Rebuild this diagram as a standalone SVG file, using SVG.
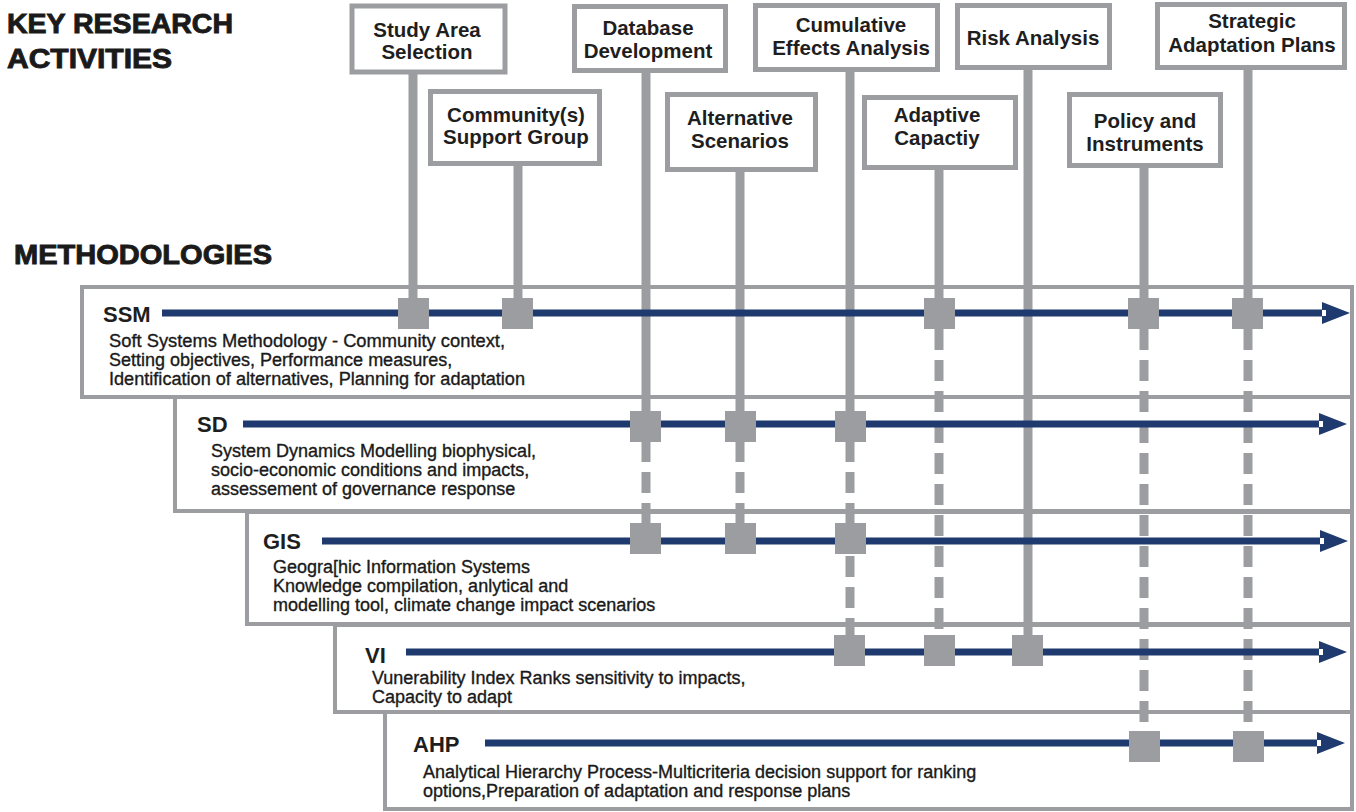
<svg xmlns="http://www.w3.org/2000/svg" width="1356" height="812" viewBox="0 0 1356 812">
<style>
.hdr{font-family:"Liberation Sans",Arial,sans-serif;font-weight:bold;font-size:27px;fill:#1a1a1a;stroke:#1a1a1a;stroke-width:0.9}
.abox{fill:#fff;stroke:#9b9da0;stroke-width:5}
.atxt{font-family:"Liberation Sans",Arial,sans-serif;font-weight:bold;font-size:20.5px;fill:#1e1e1e;text-anchor:middle}
.mbox{fill:#fff;stroke:#9b9da0;stroke-width:4}
.mlbl{font-family:"Liberation Sans",Arial,sans-serif;font-weight:bold;font-size:22px;fill:#1e1e1e}
.mtxt{font-family:"Liberation Sans",Arial,sans-serif;font-size:18px;fill:#1a1a1a;stroke:#1a1a1a;stroke-width:0.35}
.conn{stroke:#9b9da0;stroke-width:9;fill:none}
.dash{stroke:#9b9da0;stroke-width:9;fill:none;stroke-dasharray:21 10}
.sq{fill:#9b9da0}
.flow{stroke:#1f3a6e;stroke-width:7;fill:none}
.head{fill:#1f3a6e}
</style>
<rect width="1356" height="812" fill="#fff"/>

<g id="headers">
<text class="hdr" x="7" y="33" textLength="226" lengthAdjust="spacingAndGlyphs">KEY RESEARCH</text>
<text class="hdr" x="7" y="68" textLength="165" lengthAdjust="spacingAndGlyphs">ACTIVITIES</text>
<text class="hdr" x="14" y="264" textLength="258" lengthAdjust="spacingAndGlyphs">METHODOLOGIES</text>
</g>

<!-- methodology boxes -->
<g id="m-ssm"><rect class="mbox" x="82" y="287" width="1270" height="110"/>
<text class="mlbl" x="103" y="322">SSM</text>
<text class="mtxt" x="109" y="347" textLength="396" lengthAdjust="spacingAndGlyphs">Soft Systems Methodology - Community context,</text>
<text class="mtxt" x="109" y="366">Setting objectives, Performance measures,</text>
<text class="mtxt" x="109" y="385" textLength="416" lengthAdjust="spacingAndGlyphs">Identification of alternatives, Planning for adaptation</text></g>
<g id="m-sd"><rect class="mbox" x="175" y="397" width="1177" height="114"/>
<text class="mlbl" x="197" y="432">SD</text>
<text class="mtxt" x="211" y="457">System Dynamics Modelling biophysical,</text>
<text class="mtxt" x="211" y="476">socio-economic conditions and impacts,</text>
<text class="mtxt" x="211" y="495">assessement of governance response</text></g>
<g id="m-gis"><rect class="mbox" x="247" y="512" width="1105" height="112"/>
<text class="mlbl" x="263" y="549">GIS</text>
<text class="mtxt" x="273" y="573">Geogra[hic Information Systems</text>
<text class="mtxt" x="273" y="592">Knowledge compilation, anlytical and</text>
<text class="mtxt" x="273" y="611">modelling tool, climate change impact scenarios</text></g>
<g id="m-vi"><rect class="mbox" x="335" y="625" width="1017" height="87"/>
<text class="mlbl" x="365" y="663">VI</text>
<text class="mtxt" x="372" y="684">Vunerability Index Ranks sensitivity to impacts,</text>
<text class="mtxt" x="372" y="703">Capacity to adapt</text></g>
<g id="m-ahp"><rect class="mbox" x="385" y="712" width="967" height="97"/>
<text class="mlbl" x="413" y="752">AHP</text>
<text class="mtxt" x="423" y="778">Analytical Hierarchy Process-Multicriteria decision support for ranking</text>
<text class="mtxt" x="423" y="797">options,Preparation of adaptation and response plans</text></g>

<!-- connectors -->
<g id="connectors">
<line class="conn" x1="413" y1="72" x2="413" y2="313"/>
<line class="conn" x1="518" y1="164" x2="518" y2="313"/>
<line class="conn" x1="646" y1="71" x2="646" y2="426"/>
<line class="dash" x1="646" y1="441" x2="646" y2="524"/>
<line class="conn" x1="740" y1="170" x2="740" y2="426"/>
<line class="dash" x1="740" y1="441" x2="740" y2="524"/>
<line class="conn" x1="850" y1="70" x2="850" y2="426"/>
<line class="dash" x1="850" y1="441" x2="850" y2="524"/>
<line class="dash" x1="850" y1="556" x2="850" y2="635"/>
<line class="conn" x1="939" y1="168" x2="939" y2="313"/>
<line class="dash" x1="939" y1="329" x2="939" y2="635"/>
<line class="conn" x1="1028" y1="68" x2="1028" y2="651"/>
<line class="conn" x1="1144" y1="166" x2="1144" y2="313"/>
<line class="dash" x1="1144" y1="329" x2="1144" y2="730"/>
<line class="conn" x1="1248" y1="68" x2="1248" y2="313"/>
<line class="dash" x1="1248" y1="329" x2="1248" y2="730"/>

<line class="flow" x1="162" y1="313" x2="1324" y2="313"/>
<polygon class="head" points="1322,302 1350,313 1322,324"/><rect x="1322" y="310" width="4" height="6" fill="#fff"/>
<line class="flow" x1="243" y1="424" x2="1321" y2="424"/>
<polygon class="head" points="1319,413 1347,424 1319,435"/><rect x="1319" y="421" width="4" height="6" fill="#fff"/>
<line class="flow" x1="322" y1="541" x2="1322" y2="541"/>
<polygon class="head" points="1320,530 1348,541 1320,552"/><rect x="1320" y="538" width="4" height="6" fill="#fff"/>
<line class="flow" x1="406" y1="652" x2="1321" y2="652"/>
<polygon class="head" points="1319,641 1347,652 1319,663"/><rect x="1319" y="649" width="4" height="6" fill="#fff"/>
<line class="flow" x1="485" y1="743" x2="1319" y2="743"/>
<polygon class="head" points="1317,732 1345,743 1317,754"/><rect x="1317" y="740" width="4" height="6" fill="#fff"/>

<rect class="sq" x="398" y="298" width="31" height="31"/>
<rect class="sq" x="502" y="298" width="31" height="31"/>
<rect class="sq" x="924" y="298" width="31" height="31"/>
<rect class="sq" x="1128" y="298" width="31" height="31"/>
<rect class="sq" x="1232" y="298" width="31" height="31"/>
<rect class="sq" x="630" y="411" width="31" height="31"/>
<rect class="sq" x="725" y="411" width="31" height="31"/>
<rect class="sq" x="835" y="411" width="31" height="31"/>
<rect class="sq" x="630" y="523" width="31" height="31"/>
<rect class="sq" x="725" y="523" width="31" height="31"/>
<rect class="sq" x="835" y="523" width="31" height="31"/>
<rect class="sq" x="834" y="635" width="31" height="31"/>
<rect class="sq" x="924" y="635" width="31" height="31"/>
<rect class="sq" x="1012" y="635" width="31" height="31"/>
<rect class="sq" x="1129" y="731" width="31" height="31"/>
<rect class="sq" x="1233" y="731" width="31" height="31"/>
</g>

<!-- activity nodes -->
<g id="a-study"><rect class="abox" x="352" y="6" width="153" height="66"/>
<text class="atxt" x="427" y="37">Study Area</text><text class="atxt" x="427" y="59">Selection</text></g>
<g id="a-community"><rect class="abox" x="430.5" y="91.5" width="169" height="72"/>
<text class="atxt" x="516" y="122">Community(s)</text><text class="atxt" x="516" y="144">Support Group</text></g>
<g id="a-database"><rect class="abox" x="574.5" y="6.5" width="151" height="64"/>
<text class="atxt" x="648" y="35">Database</text><text class="atxt" x="648" y="58">Development</text></g>
<g id="a-alternative"><rect class="abox" x="667.5" y="94.5" width="148" height="75"/>
<text class="atxt" x="740" y="125">Alternative</text><text class="atxt" x="740" y="148">Scenarios</text></g>
<g id="a-cumulative"><rect class="abox" x="755.5" y="5.5" width="182" height="64"/>
<text class="atxt" x="851" y="32">Cumulative</text><text class="atxt" x="851" y="55">Effects Analysis</text></g>
<g id="a-adaptive"><rect class="abox" x="864.5" y="97.5" width="151" height="70"/>
<text class="atxt" x="937" y="122">Adaptive</text><text class="atxt" x="937" y="145">Capactiy</text></g>
<g id="a-risk"><rect class="abox" x="957.5" y="5.5" width="152" height="62"/>
<text class="atxt" x="1033" y="45">Risk Analysis</text></g>
<g id="a-policy"><rect class="abox" x="1069.5" y="94.5" width="151" height="71"/>
<text class="atxt" x="1145" y="128">Policy and</text><text class="atxt" x="1145" y="151">Instruments</text></g>
<g id="a-strategic"><rect class="abox" x="1157.5" y="4.5" width="187" height="63"/>
<text class="atxt" x="1252" y="28">Strategic</text><text class="atxt" x="1252" y="52">Adaptation Plans</text></g>
</svg>
